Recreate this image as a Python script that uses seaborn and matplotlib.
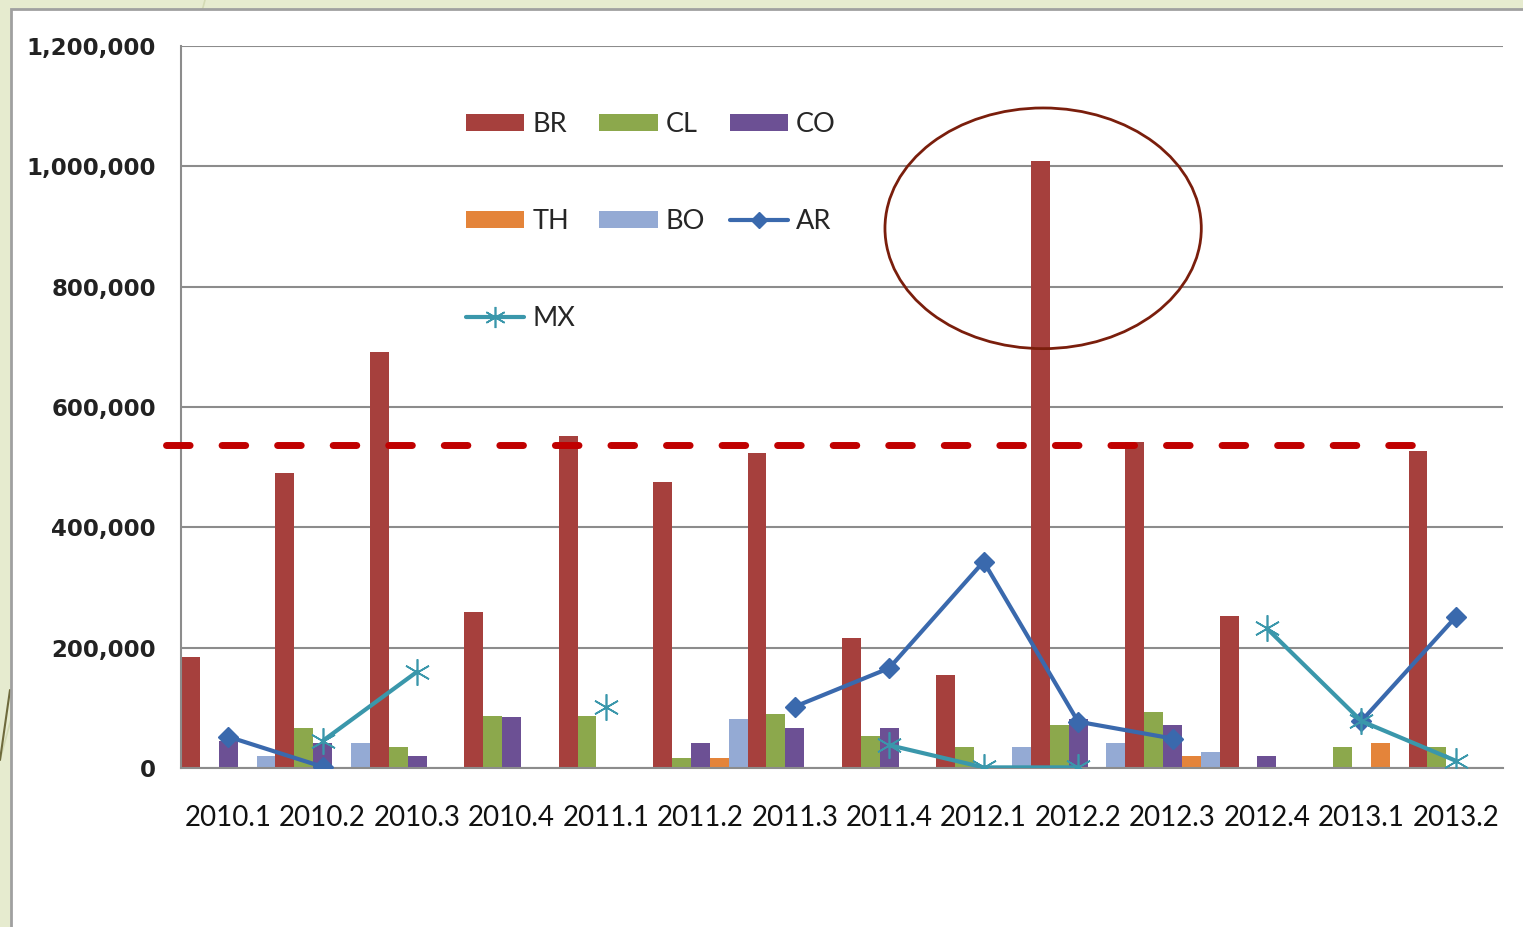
import numpy as np
import pandas as pd
import matplotlib
matplotlib.use("Agg")
import matplotlib.pyplot as plt
from matplotlib.patches import Ellipse, Rectangle
from matplotlib.lines import Line2D
from matplotlib.ticker import FuncFormatter, FixedLocator
import seaborn as sns

# quarters on the x axis
quarters = ["2010.1", "2010.2", "2010.3", "2010.4", "2011.1", "2011.2", "2011.3",
            "2011.4", "2012.1", "2012.2", "2012.3", "2012.4", "2013.1", "2013.2"]

# bar series
BR = [185000, 490000, 692000, 259000, 551000, 475000, 524000,
      216000, 155000, 1009000, 542000, 253000, 0, 527000]
CL = [0, 66000, 35000, 87000, 87000, 17000, 90000,
      53000, 35000, 71000, 93000, 0, 35000, 35000]
CO = [45000, 41000, 20000, 84000, 0, 41000, 66000,
      66000, 0, 82000, 71000, 20000, 0, 0]
TH = [0, 0, 0, 0, 0, 17000, 0,
      0, 0, 0, 20000, 0, 42000, 0]
BO = [20000, 41000, 0, 0, 0, 81000, 0,
      0, 35000, 41000, 26000, 0, 0, 0]

# line series (gaps are missing quarters)
AR = [52000, 2000, np.nan, np.nan, np.nan, np.nan, 102000,
      166000, 343000, 77000, 49000, np.nan, 78000, 251000]
MX = [np.nan, 45000, 160000, np.nan, 101000, np.nan, np.nan,
      38000, 1000, 1000, np.nan, 232000, 78000, 12000]

# hand-drawn annotation: dashed reference level
THRESHOLD = 537000

bar_names = ["BR", "CL", "CO", "TH", "BO"]
bar_colors = ["#A6403D", "#8CA84C", "#6C5094", "#E4843A", "#94AAD4"]
AR_COLOR = "#3A69AD"
MX_COLOR = "#3A97AB"
GRID = "#8C8C8C"

long_df = pd.DataFrame({
    "quarter": np.tile(quarters, len(bar_names)),
    "country": np.repeat(bar_names, len(quarters)),
    "value": np.concatenate([BR, CL, CO, TH, BO]),
})

sns.set_style("white")
plt.rcParams["font.family"] = ["DejaVu Sans"]

W, H = 1523, 927
fig = plt.figure(figsize=(W / 100, H / 100), dpi=100, facecolor="#E6EBCF")

# slide decoration + white chart panel (behind the axes)
fig.add_artist(Line2D([0, 205 / W], [1 - 760 / H, 1.0], transform=fig.transFigure,
                      color="#D3DAB4", lw=1.2, zorder=-3))
fig.add_artist(Line2D([0, 10 / W], [1 - 760 / H, 1 - 690 / H], transform=fig.transFigure,
                      color="#6E6A3C", lw=1.5, zorder=-3))
fig.add_artist(Rectangle((11 / W, -0.05), 1.0, 1 - 9 / H + 0.05,
                         transform=fig.transFigure, facecolor="white",
                         edgecolor="#A0A0A0", lw=2, zorder=-2))

ax = fig.add_axes([181 / W, 1 - 768 / H, 1322 / W, 722 / H])
ax.set_zorder(1)
ax.set_facecolor("none")

sns.barplot(data=long_df, x="quarter", y="value", hue="country",
            hue_order=bar_names, palette=bar_colors, order=quarters,
            width=1.0, saturation=1, errorbar=None, linewidth=0, ax=ax)

xpos = np.arange(len(quarters))
ax.plot(xpos, AR, color=AR_COLOR, lw=3, marker="D", ms=10.5, label="AR", zorder=5)
ax.plot(xpos, MX, color=MX_COLOR, lw=3, marker=(6, 2, 0), ms=19, mew=1.2,
        mec=MX_COLOR, label="MX", zorder=5)

ax.set_xlim(-0.5, len(quarters) - 0.5)
ax.set_ylim(0, 1200000)
ax.set_yticks(np.arange(0, 1200001, 200000))
ax.yaxis.set_major_formatter(FuncFormatter(lambda v, p: f"{int(v):,}"))
ax.yaxis.grid(True, color=GRID, lw=1.5)
ax.xaxis.grid(False)
ax.set_axisbelow(True)
ax.set_xlabel("")
ax.set_ylabel("")

for s in ["top", "right"]:
    ax.spines[s].set_visible(False)
for s in ["left", "bottom"]:
    ax.spines[s].set_color(GRID)
    ax.spines[s].set_linewidth(1.5)

ax.set_xticks(xpos)
ax.set_xticklabels(quarters, fontsize=20, family=["Lato", "DejaVu Sans"], color="#111111")
ax.xaxis.set_minor_locator(FixedLocator(np.arange(-0.5, len(quarters), 1.0)))
ax.tick_params(axis="x", which="major", length=0, pad=27)
ax.tick_params(axis="x", which="minor", length=6, width=1.5, color=GRID, direction="out")
ax.tick_params(axis="y", length=7, width=1.5, color=GRID, direction="out", pad=11,
               labelsize=16.5)
for t in ax.get_yticklabels():
    t.set_fontweight("bold")
    t.set_color("#222222")

# legend: rows BR CL CO / TH BO AR / MX
handles, labels = ax.get_legend_handles_labels()
hmap = dict(zip(labels, handles))
order = ["BR", "TH", "MX", "CL", "BO", "CO", "AR"]
leg = ax.legend([hmap[k] for k in order], order, ncol=3, loc="upper left",
                bbox_to_anchor=(0.2155, 0.909), frameon=False,
                prop={"family": ["Lato", "DejaVu Sans"], "size": 19.5},
                handlelength=2.15, handleheight=0.6, handletextpad=0.3,
                labelspacing=2.66, columnspacing=0.9, borderpad=0, borderaxespad=0,
                markerscale=0.8)

# annotations: dashed level line and ellipse around the peak bar
ax.axhline(THRESHOLD, xmin=-0.0115, xmax=0.936, color="#C00000", lw=5,
           ls=(0, (3.4, 4.6)), dash_capstyle="round", clip_on=False, zorder=6)
peak = int(np.argmax(BR))
ax.add_patch(Ellipse((peak - 0.37, 897000), width=3.35, height=400000, fill=False,
                     edgecolor="#7A1E0C", lw=2, zorder=6, clip_on=False))

fig.savefig("out.png", dpi=100, facecolor=fig.get_facecolor())
